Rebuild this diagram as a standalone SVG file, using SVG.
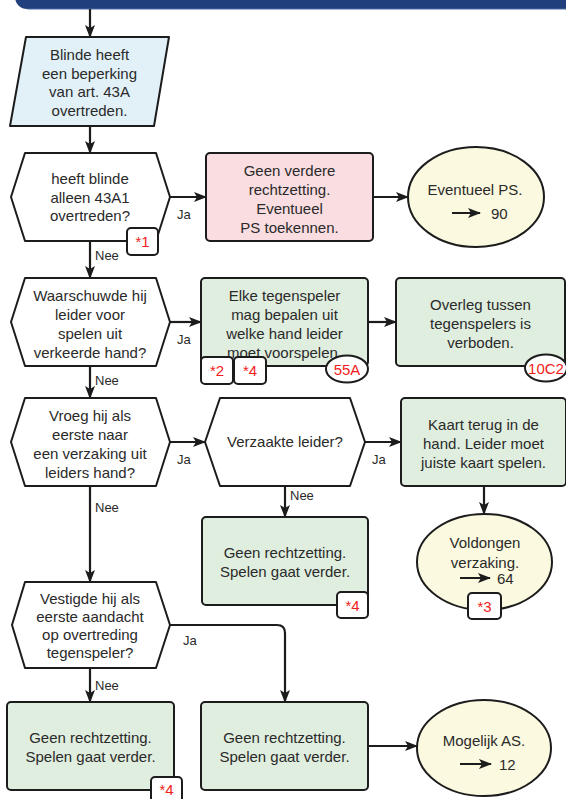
<svg xmlns="http://www.w3.org/2000/svg" width="566" height="799" viewBox="0 0 566 799">
<defs>
<style>
.n{stroke:#1c1c1c;stroke-width:2;stroke-linejoin:round}
.blue{fill:#e2f1f8}
.hex{fill:#ffffff}
.pink{fill:#f9dde1}
.green{fill:#e0eedf}
.yel{fill:#fbf9df}
.t{font-family:"Liberation Sans",Arial,sans-serif;font-size:15px;fill:#2a2a2a;text-anchor:middle}
.l{font-family:"Liberation Sans",Arial,sans-serif;font-size:13px;fill:#2a2a2a}
.r{font-family:"Liberation Sans",Arial,sans-serif;font-size:15px;fill:#f01c1c;text-anchor:middle}
.tag{fill:#ffffff;stroke:#1c1c1c;stroke-width:2}
.c{fill:none;stroke:#1c1c1c;stroke-width:2.2;marker-end:url(#ah)}
.s{fill:none;stroke:#1c1c1c;stroke-width:2;marker-end:url(#ah)}
</style>
<marker id="ah" viewBox="0 0 13 10" refX="12" refY="5" markerWidth="13" markerHeight="10" markerUnits="userSpaceOnUse" orient="auto">
<path d="M0,0 L13,5 L0,10 L3,5 Z" fill="#1c1c1c"/>
</marker>
</defs>

<g id="banner">
<path d="M15,-20 H566 V9 H27 A12,12 0 0 1 15,-3 Z" fill="#213f7c"/>
<path d="M27,9 H566" stroke="#4d6aa3" stroke-width="1"/>
</g>

<g id="connectors">
<path class="c" d="M90,9 V37"/>
<path class="c" d="M90,126 V153"/>
<path class="c" d="M170,197 H206"/>
<path class="c" d="M373,197 H408"/>
<path class="c" d="M90,241 V278"/>
<path class="c" d="M170,322 H201"/>
<path class="c" d="M368,322 H396"/>
<path class="c" d="M90,366 V398"/>
<path class="c" d="M170,442 H205"/>
<path class="c" d="M365,442 H401"/>
<path class="c" d="M285,486 V517"/>
<path class="c" d="M484,486 V514"/>
<path class="c" d="M90,486 V582"/>
<path class="c" d="M170,625 H277 Q285,625 285,633 V702"/>
<path class="c" d="M90,668 V702"/>
<path class="c" d="M368,746 H417"/>
<text class="l" x="177" y="218.5">Ja</text>
<text class="l" x="95" y="259.5">Nee</text>
<text class="l" x="177" y="343.5">Ja</text>
<text class="l" x="95" y="384.5">Nee</text>
<text class="l" x="177" y="463.5">Ja</text>
<text class="l" x="372" y="463.5">Ja</text>
<text class="l" x="290" y="500">Nee</text>
<text class="l" x="95" y="512">Nee</text>
<text class="l" x="183" y="644.5">Ja</text>
<text class="l" x="95" y="689.5">Nee</text>
</g>

<g id="start">
<polygon class="n blue" points="26,37 169,37 154,126 10,126"/>
<text class="t" x="89.5" y="60">Blinde heeft</text>
<text class="t" x="89.5" y="78.5">een beperking</text>
<text class="t" x="89.5" y="97">van art. 43A</text>
<text class="t" x="89.5" y="115.5">overtreden.</text>
</g>

<g id="q1">
<polygon class="n hex" points="11,197 25,153 156,153 170,197 156,241 25,241"/>
<text class="t" x="90" y="184">heeft blinde</text>
<text class="t" x="90" y="202.5">alleen 43A1</text>
<text class="t" x="90" y="221">overtreden?</text>
<rect class="tag" x="127" y="228" width="31" height="27" rx="4"/>
<text class="r" x="142.5" y="247">*1</text>
</g>

<g id="r1">
<rect class="n pink" x="206" y="153" width="167" height="88" rx="4"/>
<text class="t" x="289.5" y="175.5">Geen verdere</text>
<text class="t" x="289.5" y="194.5">rechtzetting.</text>
<text class="t" x="289.5" y="213.5">Eventueel</text>
<text class="t" x="289.5" y="232.5">PS toekennen.</text>
</g>

<g id="e1">
<ellipse class="n yel" cx="476" cy="197" rx="68" ry="50"/>
<text class="t" x="475" y="195">Eventueel PS.</text>
<path class="s" d="M452,213 H480"/>
<text class="t" x="491" y="218.5" style="text-anchor:start">90</text>
</g>

<g id="q2">
<polygon class="n hex" points="11,322 25,278 156,278 170,322 156,366 25,366"/>
<text class="t" x="90" y="300.5">Waarschuwde hij</text>
<text class="t" x="90" y="319.5">leider voor</text>
<text class="t" x="90" y="338.5">spelen uit</text>
<text class="t" x="90" y="357.5">verkeerde hand?</text>
</g>

<g id="r2">
<rect class="n green" x="201" y="278" width="167" height="88" rx="4"/>
<text class="t" x="284.5" y="300.5">Elke tegenspeler</text>
<text class="t" x="284.5" y="319.5">mag bepalen uit</text>
<text class="t" x="284.5" y="338.5">welke hand leider</text>
<text class="t" x="284.5" y="357.5">moet voorspelen.</text>
<rect class="tag" x="201" y="357" width="32" height="27" rx="4"/>
<text class="r" x="217" y="376">*2</text>
<rect class="tag" x="234" y="357" width="32" height="27" rx="4"/>
<text class="r" x="250" y="376">*4</text>
<ellipse class="tag" cx="347" cy="369" rx="21" ry="13.5"/>
<text class="r" x="347" y="374.5">55A</text>
</g>

<g id="r3">
<rect class="n green" x="396" y="278" width="169" height="88" rx="4"/>
<text class="t" x="480.5" y="309.5">Overleg tussen</text>
<text class="t" x="480.5" y="328.5">tegenspelers is</text>
<text class="t" x="480.5" y="347.5">verboden.</text>
<ellipse class="tag" cx="546" cy="368" rx="21" ry="13.5"/>
<text class="r" x="546" y="373.5">10C2</text>
</g>

<g id="q3">
<polygon class="n hex" points="11,442 25,398 156,398 170,442 156,486 25,486"/>
<text class="t" x="90" y="420.5">Vroeg hij als</text>
<text class="t" x="90" y="439.5">eerste naar</text>
<text class="t" x="90" y="458.5">een verzaking uit</text>
<text class="t" x="90" y="477.5">leiders hand?</text>
</g>

<g id="q4">
<polygon class="n hex" points="205,442 220,398 350,398 365,442 350,486 220,486"/>
<text class="t" x="285" y="447">Verzaakte leider?</text>
</g>

<g id="r4">
<rect class="n green" x="401" y="398" width="165" height="88" rx="4"/>
<text class="t" x="483.5" y="429.5">Kaart terug in de</text>
<text class="t" x="483.5" y="448.5">hand. Leider moet</text>
<text class="t" x="483.5" y="467.5">juiste kaart spelen.</text>
</g>

<g id="r5">
<rect class="n green" x="202" y="517" width="166" height="88" rx="4"/>
<text class="t" x="285" y="558">Geen rechtzetting.</text>
<text class="t" x="285" y="577">Spelen gaat verder.</text>
<rect class="tag" x="337" y="592" width="31" height="26" rx="4"/>
<text class="r" x="352.5" y="610.5">*4</text>
</g>

<g id="e2">
<ellipse class="n yel" cx="484.5" cy="562" rx="67.5" ry="48"/>
<text class="t" x="485" y="548">Voldongen</text>
<text class="t" x="485" y="568">verzaking.</text>
<path class="s" d="M460,578 H490"/>
<text class="t" x="497" y="583.5" style="text-anchor:start">64</text>
<rect class="tag" x="468" y="593" width="33" height="26" rx="4"/>
<text class="r" x="484.5" y="611.5">*3</text>
</g>

<g id="q5">
<polygon class="n hex" points="12,625 25,582 156,582 170,625 156,668 25,668"/>
<text class="t" x="90" y="604">Vestigde hij als</text>
<text class="t" x="90" y="622">eerste aandacht</text>
<text class="t" x="90" y="640">op overtreding</text>
<text class="t" x="90" y="658">tegenspeler?</text>
</g>

<g id="r6">
<rect class="n green" x="7" y="702" width="167" height="88" rx="4"/>
<text class="t" x="90.5" y="743">Geen rechtzetting.</text>
<text class="t" x="90.5" y="762">Spelen gaat verder.</text>
<rect class="tag" x="151" y="777" width="31" height="30" rx="4"/>
<text class="r" x="166.5" y="795">*4</text>
</g>

<g id="r7">
<rect class="n green" x="201" y="702" width="167" height="88" rx="4"/>
<text class="t" x="284.5" y="743">Geen rechtzetting.</text>
<text class="t" x="284.5" y="762">Spelen gaat verder.</text>
</g>

<g id="e3">
<ellipse class="n yel" cx="484" cy="748" rx="67" ry="48"/>
<text class="t" x="484" y="746">Mogelijk AS.</text>
<path class="s" d="M460,764 H491"/>
<text class="t" x="499" y="769.5" style="text-anchor:start">12</text>
</g>
</svg>
